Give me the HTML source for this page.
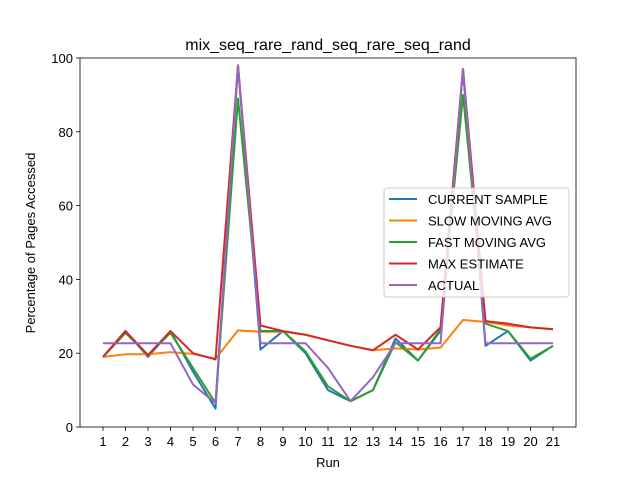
<!DOCTYPE html>
<html><head><meta charset="utf-8"><style>body{margin:0;background:#fff}svg{display:block;font-family:"Liberation Sans","DejaVu Sans",sans-serif}</style></head>
<body>
<svg id="chart" width="640" height="480"></svg>
<script>
const runs=[1,2,3,4,5,6,7,8,9,10,11,12,13,14,15,16,17,18,19,20,21];
const currentSample=[19,26,19,26,15,5,98,21,26,20,10,7,10,24,18,26,97,22,26,18,22];
const slowAvg=[19,19.7,19.7,20.3,19.8,18.5,26.2,25.8,25.8,25,23.5,22,20.8,21.3,21,21.5,29,28.5,27.5,27,26.5];
const fastAvg=[19,25.5,19.5,25.5,16,6.5,89,26,26,20.5,11,7,10,23,18,26.5,90,28,26,18.5,22];
const maxEst=[19,26,19.5,26,20,18.3,98,27.5,26,25,23.5,22,20.8,25,21,27,97,28.7,28,27,26.5];
const actual=[22.7,22.7,22.7,22.7,11.5,6.5,98,22.7,22.7,22.7,16,7,13.5,22.7,22.7,22.7,97,22.7,22.7,22.7,22.7];
const yTicks=[0,20,40,60,80,100];
const seriesNames=["CURRENT SAMPLE","SLOW MOVING AVG","FAST MOVING AVG","MAX ESTIMATE","ACTUAL"];
const colors=["#1f77b4","#ff7f0e","#2ca02c","#d62728","#9467bd"];
const L=80,R=576,T=58,B=427;
const xs=i=>103+(i-1)*(553-103)/20;
const ys=v=>B-(v/100)*(B-T);
const svg=document.getElementById('chart');
const NS="http://www.w3.org/2000/svg";
function mk(tag,attrs,text){const e=document.createElementNS(NS,tag);for(const k in attrs)e.setAttribute(k,attrs[k]);if(text!==undefined)e.textContent=text;svg.appendChild(e);return e;}
let t=mk('text',{x:328,y:50,'font-size':16,'text-anchor':'middle'},'mix_seq_rare_rand_seq_rare_seq_rand');


runs.forEach(r=>{
 let l=mk('line',{x1:xs(r),x2:xs(r),y1:B,y2:B+4,stroke:'#000','stroke-width':0.8});
 
 
 let tx=mk('text',{x:xs(r),y:B+19,'font-size':13,'text-anchor':'middle'},String(r));
 
 
});
yTicks.forEach(v=>{
 let l=mk('line',{x1:L-4,x2:L,y1:ys(v),y2:ys(v),stroke:'#000','stroke-width':0.8});
 
 
 let tx=mk('text',{x:L-7,y:ys(v)+5,'font-size':13,'text-anchor':'end'},String(v));
 
 
});
t=mk('text',{x:328,y:467,'font-size':13,'text-anchor':'middle'},'Run');


t=mk('text',{x:35,y:243,'font-size':13,'text-anchor':'middle',transform:'rotate(-90 35 243)'},'Percentage of Pages Accessed');


[currentSample,slowAvg,fastAvg,maxEst,actual].forEach((s,k)=>{
 let p=mk('polyline',{points:s.map((v,i)=>xs(runs[i])+','+ys(v)).join(' '),fill:'none',stroke:colors[k],'stroke-width':2,'stroke-linejoin':'round'});
 
 
});
let fr=mk('rect',{x:L,y:T,width:R-L,height:B-T,fill:'none',stroke:'#000','stroke-width':0.8});


let lg=mk('rect',{x:384,y:188,width:185,height:109,fill:'#fff','fill-opacity':0.8,stroke:'#ccc',rx:3});


seriesNames.forEach((n,k)=>{
 const y=199+k*21.5;
 let l=mk('line',{x1:389,x2:417,y1:y,y2:y,stroke:colors[k],'stroke-width':2});
 
 
 let tx=mk('text',{x:428,y:y+5,'font-size':13},n);
 
 
});
</script>
</body></html>
